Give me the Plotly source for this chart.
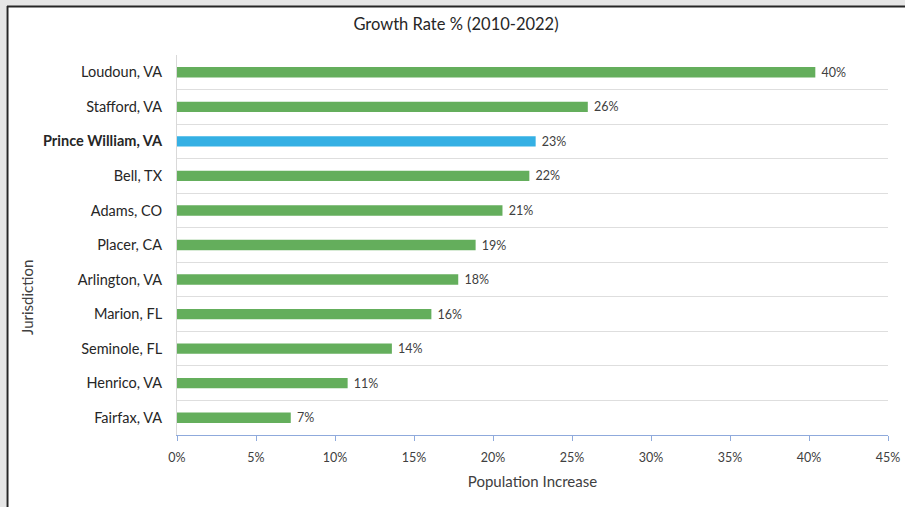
import plotly.graph_objects as go

# Jurisdictions listed top to bottom, with 2010-2022 population growth (fraction)
jurisdictions = [
    "Loudoun, VA", "Stafford, VA", "Prince William, VA", "Bell, TX",
    "Adams, CO", "Placer, CA", "Arlington, VA", "Marion, FL",
    "Seminole, FL", "Henrico, VA", "Fairfax, VA",
]
growth = [0.404, 0.260, 0.227, 0.223, 0.206, 0.189, 0.178, 0.161, 0.136, 0.108, 0.072]
highlight = "Prince William, VA"
x_ticks = [0, 0.05, 0.10, 0.15, 0.20, 0.25, 0.30, 0.35, 0.40, 0.45]

GREEN = "#64AE5C"
BLUE = "#35B0E4"
TEXT = "#404040"
FONT = "Lato, 'Open Sans', sans-serif"

bar_colors = [BLUE if j == highlight else GREEN for j in jurisdictions]
tick_text = [f"<b>{j}</b>" if j == highlight else j for j in jurisdictions]

fig = go.Figure(
    go.Bar(
        x=growth,
        y=jurisdictions,
        orientation="h",
        width=0.3,
        marker=dict(color=bar_colors, line=dict(width=0)),
        texttemplate="\u00a0%{x:.0%}",
        textposition="outside",
        constraintext="none",
        textfont=dict(family=FONT, size=12.5, color=TEXT),
        cliponaxis=False,
        hoverinfo="skip",
    )
)

# Plot area in pixels: left 177, right 888, top 55, bottom 435
W, H = 905, 507
L, R, T, B = 177, 888, 55, 435


def px(x):
    return (x - L) / (R - L)


def py(y):
    return (B - y) / (B - T)


shapes = [
    # grey strips along the top and left edge of the window
    dict(type="rect", xref="paper", yref="paper", x0=px(0), x1=px(W), y0=py(6), y1=py(-1),
         fillcolor="#e6e6e6", line=dict(width=0), layer="below"),
    dict(type="rect", xref="paper", yref="paper", x0=px(-1), x1=px(6), y0=py(W), y1=py(0),
         fillcolor="#e6e6e6", line=dict(width=0), layer="below"),
    # dark frame lines
    dict(type="line", xref="paper", yref="paper", x0=px(7), x1=px(W + 2), y0=py(6.5), y1=py(6.5),
         line=dict(color="#262626", width=2)),
    dict(type="line", xref="paper", yref="paper", x0=px(7.5), x1=px(7.5), y0=py(6), y1=py(W),
         line=dict(color="#262626", width=2)),
]

fig.update_layout(
    width=W,
    height=H,
    margin=dict(l=L, r=W - R, t=T, b=H - B, autoexpand=False),
    paper_bgcolor="white",
    plot_bgcolor="white",
    showlegend=False,
    font=dict(family=FONT, color=TEXT),
    shapes=shapes,
    title=dict(
        text="Growth Rate % (2010-2022)",
        x=456 / W,
        xanchor="center",
        y=1 - 24 / H,
        yanchor="middle",
        font=dict(family=FONT, size=16.5, color="#262626"),
    ),
    xaxis=dict(
        range=[0, 0.45],
        tickvals=x_ticks,
        tickformat=".0%",
        showgrid=False,
        zeroline=False,
        showline=True,
        linecolor="#8FAADC",
        linewidth=1,
        ticks="outside",
        ticklen=5,
        tickcolor="#8FAADC",
        ticklabelstandoff=6,
        tickfont=dict(family=FONT, size=12.5, color=TEXT),
        title=dict(text="Population Increase", font=dict(family=FONT, size=15, color=TEXT), standoff=12),
        automargin=False,
        fixedrange=True,
    ),
    yaxis=dict(
        type="category",
        categoryorder="array",
        categoryarray=jurisdictions,
        autorange="reversed",
        tickvals=jurisdictions,
        ticktext=tick_text,
        tickson="boundaries",
        showgrid=True,
        gridcolor="#dedede",
        gridwidth=1,
        showline=True,
        linecolor="#d9d9d9",
        ticks="",
        ticklabelstandoff=11,
        tickfont=dict(family=FONT, size=14.5, color="#262626"),
        automargin=False,
        fixedrange=True,
    ),
    annotations=[
        dict(
            text="Jurisdiction",
            xref="paper", yref="paper",
            x=px(27), y=py(298),
            xanchor="center", yanchor="middle",
            textangle=-90,
            showarrow=False,
            font=dict(family=FONT, size=15, color=TEXT),
        )
    ],
)

fig.write_html("out.html")
